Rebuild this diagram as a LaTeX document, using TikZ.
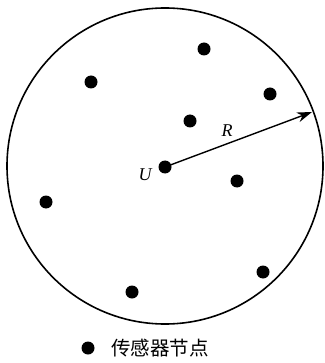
\documentclass[tikz,border=0pt]{standalone}
\usepackage{fontspec}
\setmainfont{Liberation Serif}
\newfontfamily\cjk{Noto Sans CJK SC}
\usetikzlibrary{arrows.meta}
\begin{document}
\begin{tikzpicture}[x=1pt,y=-1pt,
  sensor/.style={circle,fill=black,inner sep=0pt,minimum size=13pt},
  lbl/.style={font=\fontsize{18}{18}\selectfont\itshape,inner sep=0pt}]
\useasboundingbox (0,0) rectangle (324,363);
\node[circle,draw,line width=1.6pt,minimum size=316pt,inner sep=0pt] (area) at (165,166) {};
\node[sensor] (U) at (165,167) {};
\node[lbl] (Ul) at (145,175) {U};
\coordinate (edge) at (312,112);
\draw[line width=1.4pt,-{Stealth[length=15pt,width=10pt]}] (U.center) -- (edge);
\node[lbl] (Rl) at (227,131) {R};
\node[sensor] (s1) at (204,49) {};
\node[sensor] (s2) at (91,82) {};
\node[sensor] (s3) at (270,94) {};
\node[sensor] (s4) at (190,121) {};
\node[sensor] (s5) at (237,181) {};
\node[sensor] (s6) at (46,202) {};
\node[sensor] (s7) at (263,272) {};
\node[sensor] (s8) at (132,292) {};
\node[sensor] (leg) at (88,348) {};
\node[font=\cjk\fontsize{19.5}{19.5}\selectfont,inner sep=0pt,anchor=west] (legt) at (111,348) {传感器节点};
\end{tikzpicture}
\end{document}
